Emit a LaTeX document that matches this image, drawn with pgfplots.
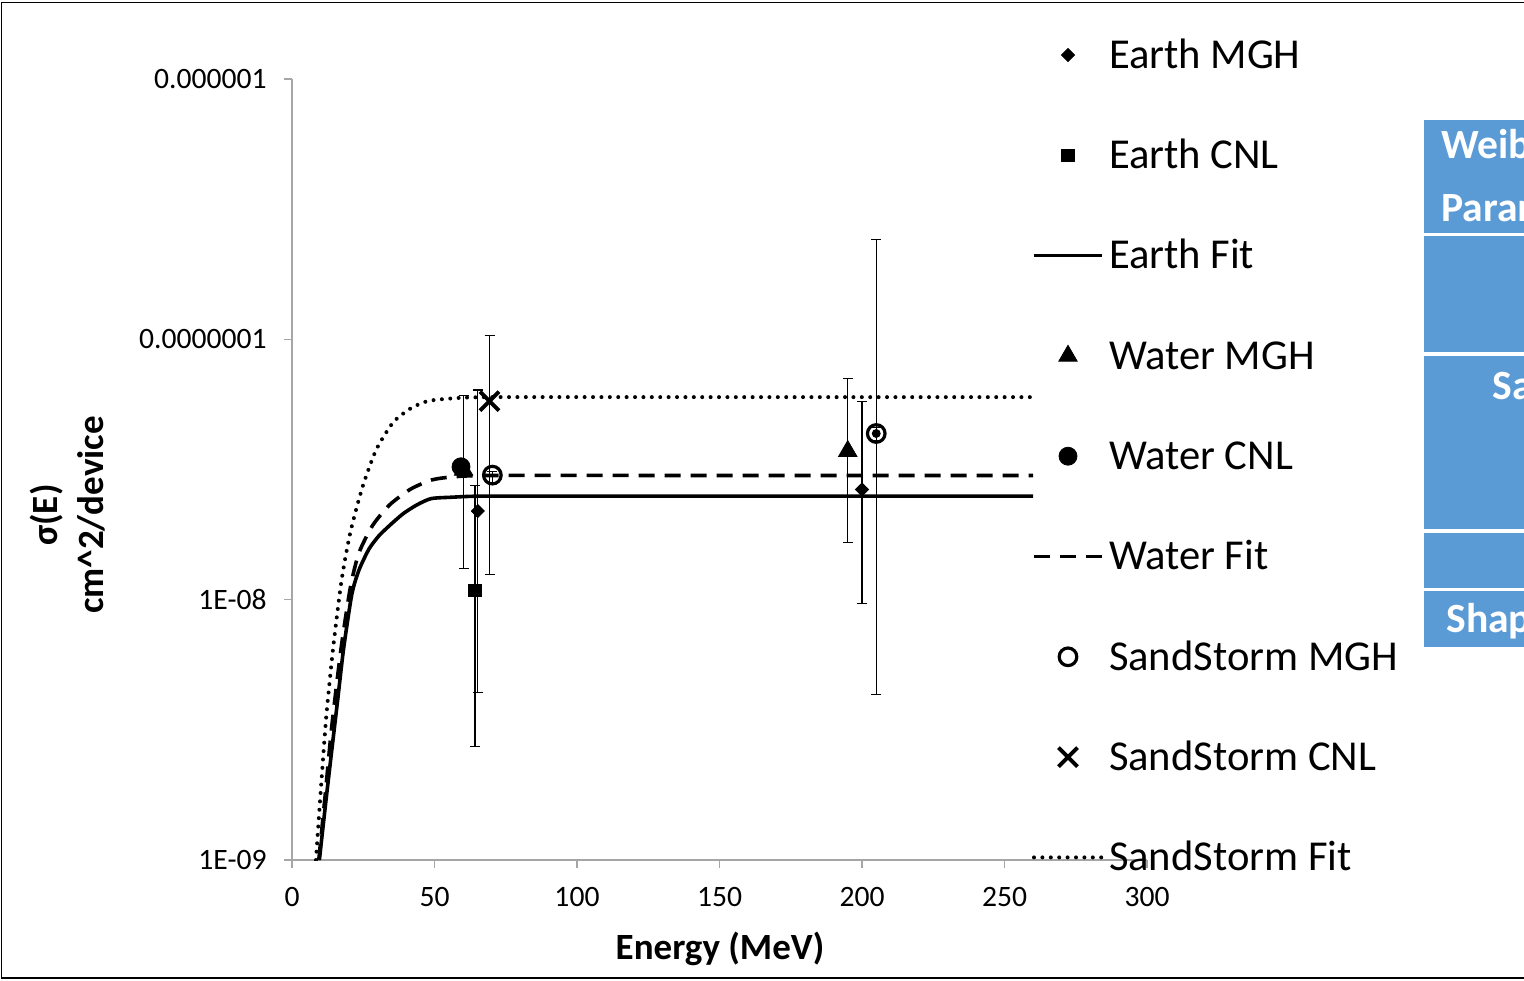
\documentclass[border=0pt]{standalone}
\usepackage{fontspec}
\setmainfont{Carlito}
\usepackage{pgfplots}
\pgfplotsset{compat=1.18}
\definecolor{tblue}{HTML}{5B9BD5}
\pgfplotsset{mylegend/.style={legend image code/.code={\draw[mark repeat=2,mark phase=2,##1] plot coordinates {(0pt,0pt) (17pt,0pt) (34pt,0pt)};}}}
\begin{document}
\begin{tikzpicture}
\useasboundingbox (0,0) rectangle (762pt,490pt);
\clip (0,0) rectangle (762pt,490pt);
\fill[white] (0,0) rectangle (762pt,490pt);
\draw[black, line width=0.7pt] (0.6pt,1pt) rectangle (780pt,488.6pt);
% side table (cut off)
\fill[tblue] (712.1pt,373.6pt) rectangle (780pt,429.75pt);
\fill[tblue] (712.1pt,314pt) rectangle (780pt,372pt);
\fill[tblue] (712.1pt,225.35pt) rectangle (780pt,312.2pt);
\fill[tblue] (712.1pt,196.05pt) rectangle (780pt,223.6pt);
\fill[tblue] (712.1pt,166.6pt) rectangle (780pt,194.3pt);
\begin{scope}[every node/.style={text=white, font=\bfseries\fontsize{20.8}{24}\selectfont, inner sep=0pt, anchor=base west}]
\node at (720.5pt,410.5pt) {Weibull};
\node at (720.5pt,379pt) {Parameters};
\node at (746pt,290.25pt) {SandStorm};
\node at (723pt,173.6pt) {Shape};
\end{scope}
\begin{axis}[
  at={(146pt,60pt)}, anchor=south west,
  scale only axis, width=427.5pt, height=390.5pt,
  xmin=0, xmax=300, ymode=log, ymin=1e-9, ymax=1e-6,
  axis lines*=left,
  axis line style={draw=gray!70, line width=0.6pt},
  tick style={draw=gray!70, line width=0.6pt},
  tick align=outside, major tick length=4pt,
  xtick={0,50,100,150,200,250,300},
  xticklabels={0,50,100,150,200,250,300},
  ytick={1e-9,1e-8,1e-7,1e-6},
  yticklabels={1E-09,1E-08,0.0000001,0.000001},
  yminorticks=false,
  ticklabel style={font=\fontsize{14.8}{17}\selectfont, text=black},
  xticklabel style={anchor=north, inner sep=0pt, yshift=-9.5pt},
  yticklabel style={anchor=east, inner sep=0pt, xshift=-8.5pt},
  xlabel={Energy (MeV)},
  xlabel style={font=\bfseries\fontsize{18.5}{22}\selectfont, at={(axis description cs:0.5006,-0.1268)}, anchor=base, inner sep=0pt},
  ylabel={σ(E)\\cm\textasciicircum 2/device},
  ylabel style={font=\bfseries\fontsize{18.5}{23}\selectfont, align=center, at={(axis description cs:-0.262,0.4417)}, anchor=center, inner sep=0pt},
  legend style={at={(axis description cs:0.8655,1.0478)}, anchor=north west, draw=none, fill=none, inner sep=0pt, outer sep=0pt, font=\fontsize{21.3}{25}\selectfont, row sep=36.85pt, column sep=2.5pt, nodes={inner sep=0pt, text height=13.3pt, text depth=0pt}},
  legend cell align=left,
  mylegend,
  error bars/error bar style={line width=0.55pt, black, solid},
  error bars/error mark options={rotate=90, mark size=2.5pt, line width=0.55pt, black, solid},
]
% Earth MGH
\addplot[only marks, mark=square*, mark size=2.3pt, mark options={rotate=45, fill=black, draw=black}, black, mylegend,
  error bars/.cd, y dir=both, y explicit]
coordinates {
(65.2,2.19e-8) += (0,4.20e-8) -= (0,1.75e-8)
(200,2.65e-8) += (0,3.11e-8) -= (0,1.68e-8)
};
\addlegendentry{Earth MGH}
% Earth CNL
\addplot[only marks, mark=square*, mark size=3.2pt, mark options={fill=black, draw=black}, black, mylegend,
  error bars/.cd, y dir=both, y explicit]
coordinates {
(64.2,1.085e-8) += (0,1.654e-8) -= (0,8.13e-9)
};
\addlegendentry{Earth CNL}
% Earth Fit
\addplot[black, line width=1.8pt, mark=none, smooth, tension=0.4, mylegend]
coordinates {
(9.6,1.0e-9) (11.8,1.65e-9) (13.9,2.61e-9) (16,4.1e-9) (18.1,6.48e-9) (21.0,1.05e-8) (23.5,1.30e-8)
(27.0,1.565e-8) (30.5,1.76e-8) (34.4,1.935e-8) (39,2.14e-8) (43.9,2.316e-8) (48.8,2.445e-8)
(56,2.475e-8) (68,2.50e-8) (120,2.50e-8) (200,2.50e-8) (260,2.50e-8)
};
\addlegendentry{Earth Fit}
% Water MGH
\addplot[only marks, mark=triangle*, mark size=5.3pt, mark options={fill=black, draw=black}, black, mylegend,
  error bars/.cd, y dir=both, y explicit]
coordinates {
(60.2,3.15e-8) += (0,2.96e-8) -= (0,1.83e-8)
(195,3.72e-8) += (0,3.36e-8) -= (0,2.06e-8)
};
\addlegendentry{Water MGH}
% Water CNL
\addplot[only marks, mark=*, mark size=4.5pt, mark options={fill=black, draw=black}, black, mylegend]
coordinates {
(59.3,3.24e-8)
};
\addlegendentry{Water CNL}
% Water Fit
\addplot[black, line width=1.8pt, dash pattern=on 8pt off 5pt, mark=none, smooth, tension=0.4, mylegend]
coordinates {
(9.4,1.0e-9) (11.7,1.8e-9) (13.9,3.22e-9) (17.2,6.48e-9) (20.5,1.118e-8) (23.5,1.514e-8)
(28.3,1.93e-8) (34.3,2.316e-8) (41.5,2.655e-8) (48.8,2.88e-8) (56,2.96e-8) (70,3.0e-8)
(150,3.0e-8) (260,3.0e-8)
};
\addlegendentry{Water Fit}
% SandStorm MGH
\addplot[only marks, mark=o, mark size=4.4pt, mark options={line width=1.6pt, draw=black}, black, mylegend,
  error bars/.cd, y dir=both, y explicit]
coordinates {
(70.3,3.01e-8) += (0,0.10e-8) -= (0,0.21e-8)
(205,4.35e-8) += (0,1.985e-7) -= (0,3.916e-8)
};
\addlegendentry{SandStorm MGH}
% SandStorm CNL
\addplot[only marks, mark=x, mark size=6.7pt, mark options={line width=2pt, draw=black}, black, mylegend,
  error bars/.cd, y dir=both, y explicit]
coordinates {
(69.3,5.79e-8) +- (0,4.54e-8)
};
\addlegendentry{SandStorm CNL}
% SandStorm Fit
\addplot[black, line width=2pt, line cap=round, dash pattern=on 0pt off 4.2pt, mark=none, smooth, tension=0.4, mylegend]
coordinates {
(8.4,1.0e-9) (10.2,1.92e-9) (12.0,3.53e-9) (14.4,6.48e-9) (17.4,1.19e-8) (20.5,1.82e-8)
(24.7,2.70e-8) (29.5,3.76e-8) (35.5,4.80e-8) (41.5,5.42e-8) (47.5,5.79e-8) (56,5.93e-8)
(70,6.0e-8) (150,6.0e-8) (260,6.0e-8)
};
\addlegendentry{SandStorm Fit}
% small inner bar of SandStorm MGH at 205
\addplot[forget plot, only marks, mark=none, black,
  error bars/.cd, y dir=both, y explicit]
coordinates {
(205,4.35e-8) +- (0,0.25e-8)
};
\end{axis}
\end{tikzpicture}
\end{document}
